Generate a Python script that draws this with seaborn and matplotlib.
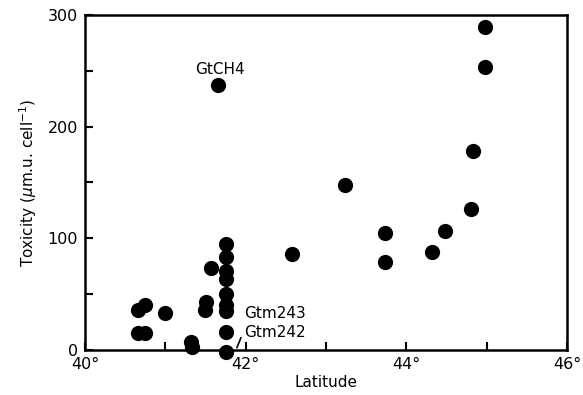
import matplotlib
matplotlib.use("Agg")
import matplotlib.pyplot as plt
import seaborn as sns
import pandas as pd

latitude = [40.66, 40.74, 40.66, 40.75, 41.0, 41.32, 41.33, 41.5, 41.49, 41.57,
            41.76, 41.76, 41.76, 41.76, 41.76, 41.76, 41.76, 41.76, 41.76,
            41.66, 42.58, 43.23, 43.73, 43.73, 44.32, 44.48, 44.81, 44.83,
            44.98, 44.98]
toxicity = [36, 40, 15, 15, 33, 7, 3, 43, 36, 73,
            95, 83, 71, 64, 50, 40, 35, 16, -2,
            237, 86, 148, 105, 79, 88, 107, 126, 178,
            289, 253]

x_ticks = [40, 41, 42, 43, 44, 45, 46]
x_labels = ["40°", "", "42°", "", "44°", "", "46°"]
y_ticks = [0, 50, 100, 150, 200, 250, 300]
y_labels = ["0", "", "100", "", "200", "", "300"]

annotations = ["GtCH4", "Gtm243", "Gtm242"]

df = pd.DataFrame({"Latitude": latitude, "Toxicity": toxicity})

sns.set_style("ticks")
plt.rcParams["font.family"] = ["DejaVu Sans"]
plt.rcParams["text.color"] = "black"
plt.rcParams["axes.labelcolor"] = "black"

fig = plt.figure(figsize=(5.83, 3.95), dpi=100)
ax = fig.add_axes([0.146, 0.114, 0.8265, 0.848])

sns.scatterplot(data=df, x="Latitude", y="Toxicity", ax=ax, color="black",
                s=120, edgecolor="black", linewidth=0, clip_on=False, zorder=3,
                legend=False)

ax.set_xlim(40, 46)
ax.set_ylim(0, 300)
ax.set_xticks(x_ticks)
ax.set_xticklabels(x_labels)
ax.set_yticks(y_ticks)
ax.set_yticklabels(y_labels)
ax.tick_params(direction="in", length=6, width=1.5, labelsize=11.5, colors="black")
ax.tick_params(axis="x", pad=5)
ax.tick_params(axis="y", pad=5)
for sp in ax.spines.values():
    sp.set_visible(True)
    sp.set_linewidth(1.8)
    sp.set_color("black")

ax.set_xlabel("Latitude", fontsize=11, labelpad=2, color="black")
ax.set_ylabel("Toxicity ($\\mu$m.u. cell$^{-1}$)", fontsize=11, labelpad=6, color="black")

ax.text(41.68, 251, annotations[0], fontsize=11, ha="center", va="center", color="black")
ax.text(41.98, 33, annotations[1], fontsize=11, ha="left", va="center", color="black")
ax.text(41.98, 16, annotations[2], fontsize=11, ha="left", va="center", color="black")
ax.plot([41.89, 41.94], [2, 11], color="black", lw=1.2)

fig.savefig("out.png", dpi=100)
